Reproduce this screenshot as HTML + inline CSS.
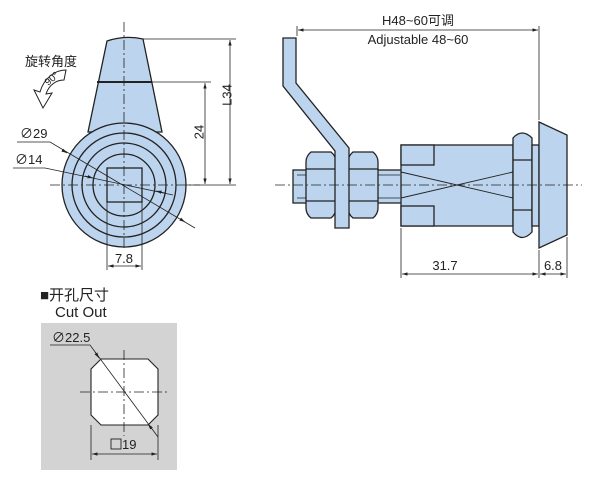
<!DOCTYPE html>
<html><head><meta charset="utf-8"><style>
html,body{margin:0;padding:0;background:#fff;}
svg{display:block;}
text{font-family:"Liberation Sans","Noto Sans CJK SC",sans-serif;fill:#222;}
</style></head><body>
<svg width="605" height="480" viewBox="0 0 605 480" xmlns="http://www.w3.org/2000/svg">
<defs>
<marker id="a" viewBox="0 0 10 10" refX="10" refY="5" markerWidth="7" markerHeight="7" orient="auto-start-reverse"><path d="M0,2 L10,5 L0,8 z" fill="#222"/></marker>
</defs>
<g stroke="#222" stroke-width="1.3" fill="#bcd4ee">
<path d="M107,41 Q125,35 143,39 L162,132 L88,132 Z"/>
<line x1="97" y1="82" x2="152" y2="82" stroke-width="2"/>
<circle cx="124" cy="185" r="62"/>
<circle cx="124" cy="185" r="52" fill="none"/>
<circle cx="124" cy="185" r="42" fill="none"/>
<circle cx="124" cy="185" r="31" fill="none"/>
<rect x="107" y="168" width="35" height="34"/>
</g>
<g stroke="#222" stroke-width="0.8" fill="none">
<line x1="124" y1="22" x2="124" y2="250" stroke-dasharray="10,3,2,3"/>
<line x1="50" y1="185" x2="200" y2="185" stroke-dasharray="10,3,2,3"/>
<line x1="143" y1="39" x2="236" y2="39"/>
<line x1="152" y1="82" x2="211" y2="82"/>
<line x1="186" y1="185" x2="236" y2="185"/>
<line x1="230" y1="40" x2="230" y2="184" marker-start="url(#a)" marker-end="url(#a)"/>
<line x1="205" y1="83" x2="205" y2="184" marker-start="url(#a)" marker-end="url(#a)"/>
<line x1="107" y1="202" x2="107" y2="270"/>
<line x1="142" y1="202" x2="142" y2="270"/>
<line x1="108" y1="266" x2="141" y2="266" marker-start="url(#a)" marker-end="url(#a)"/>
<path d="M17,142 L50,142 L195,228"/>
<line x1="62" y1="150" x2="67" y2="153" marker-end="url(#a)"/>
<line x1="180" y1="219" x2="185" y2="222" marker-end="url(#a)"/>
<path d="M13,168 L45,168 L173,195"/>
<line x1="85" y1="176" x2="93" y2="178" marker-end="url(#a)"/>
<line x1="165" y1="193" x2="156" y2="191" marker-end="url(#a)"/>
</g>
<text x="228" y="95" font-size="13" transform="rotate(-90 228 95)" text-anchor="middle" dominant-baseline="middle">L34</text>
<text x="200" y="132" font-size="13" transform="rotate(-90 200 132)" text-anchor="middle" dominant-baseline="middle">24</text>
<text x="124" y="263" font-size="13" text-anchor="middle">7.8</text>
<text x="20" y="138" font-size="13">∅29</text>
<text x="15" y="164" font-size="13">∅14</text>
<text x="25" y="66" font-size="13">旋转角度</text>
<path d="M66,70 C55,70 44,78 40,92 L34,90 L43,108 L52,93 L46,94 C49,85 56,80 64,80 Z" fill="#fff" stroke="#222" stroke-width="1"/>
<text x="48" y="86" font-size="10" transform="rotate(-40 48 86)">90°</text>

<g stroke="#222" stroke-width="1.3" fill="#bcd4ee">
<rect x="293" y="170" width="110" height="33"/>
<line x1="297" y1="175" x2="400" y2="175" stroke-width="0.7"/>
<line x1="297" y1="198" x2="400" y2="198" stroke-width="0.7"/>
<rect x="401" y="145" width="112" height="81"/>
<rect x="401" y="145" width="33" height="20"/>
<rect x="401" y="206" width="33" height="20"/>
<path d="M401,172 L513,198 M401,198 L513,172" fill="none" stroke-width="0.9"/>
<path d="M311,152 L331,152 Q336,156 336,162 L336,208 Q336,214 331,218 L311,218 Q306,214 306,208 L306,162 Q306,156 311,152 Z"/>
<path d="M306,169 L336,169 M306,201 L336,201" fill="none"/>
<path d="M353,152 L373,152 Q378,156 378,162 L378,208 Q378,214 373,218 L353,218 Q348,214 348,208 L348,162 Q348,156 353,152 Z"/>
<path d="M348,169 L378,169 M348,201 L378,201" fill="none"/>
<path d="M283,38 L296,38 L296,83 L349,148 L349,228 L335,228 L335,151 L283,86 Z"/>
<path d="M513,138 Q522,128 532,138 L532,232 Q522,243 513,232 Z"/>
<path d="M513,160 L532,160 M513,210 L532,210" fill="none"/>
<rect x="532" y="145" width="7" height="81"/>
<path d="M539,122 L567,135 L567,235 L539,248 Z"/>
</g>
<g stroke="#222" stroke-width="0.8" fill="none">
<line x1="275" y1="185" x2="582" y2="185" stroke-dasharray="10,3,2,3"/>
<line x1="297" y1="26" x2="297" y2="36"/>
<line x1="539" y1="26" x2="539" y2="120"/>
<line x1="298" y1="30" x2="538" y2="30" marker-start="url(#a)" marker-end="url(#a)"/>
<line x1="401" y1="228" x2="401" y2="278"/>
<line x1="539" y1="250" x2="539" y2="278"/>
<line x1="567" y1="237" x2="567" y2="278"/>
<line x1="402" y1="274" x2="538" y2="274" marker-start="url(#a)" marker-end="url(#a)"/>
<line x1="540" y1="274" x2="566" y2="274" marker-start="url(#a)" marker-end="url(#a)"/>
</g>
<text x="418" y="25" font-size="13" text-anchor="middle">H48~60可调</text>
<text x="418" y="44" font-size="13" text-anchor="middle">Adjustable 48~60</text>
<text x="445" y="270" font-size="13" text-anchor="middle">31.7</text>
<text x="553" y="270" font-size="13" text-anchor="middle">6.8</text>

<text x="40" y="300" font-size="15">■开孔尺寸</text>
<text x="55" y="317" font-size="15">Cut Out</text>
<rect x="41" y="323" width="136" height="147" fill="#d3d3d3"/>
<path d="M101,359 L148,359 L158,369 L158,415 L148,425 L101,425 L91,415 L91,369 Z" fill="#fff" stroke="#222" stroke-width="1.1"/>
<g stroke="#222" stroke-width="0.8" fill="none">
<line x1="124" y1="350" x2="124" y2="436" stroke-dasharray="10,3,2,3"/>
<line x1="80" y1="392" x2="168" y2="392" stroke-dasharray="10,3,2,3"/>
<path d="M50,345 L90,345 L158,437"/>
<line x1="95" y1="352" x2="99" y2="358" marker-end="url(#a)"/>
<line x1="152" y1="429" x2="148" y2="424" marker-end="url(#a)"/>
<line x1="91" y1="425" x2="91" y2="460"/>
<line x1="158" y1="425" x2="158" y2="460"/>
<line x1="92" y1="454" x2="157" y2="454" marker-start="url(#a)" marker-end="url(#a)"/>
</g>
<text x="52" y="342" font-size="13">∅22.5</text>
<rect x="111" y="439" width="10" height="10" fill="none" stroke="#222" stroke-width="0.9"/>
<text x="122" y="449" font-size="13">19</text>
</svg>
</body></html>
